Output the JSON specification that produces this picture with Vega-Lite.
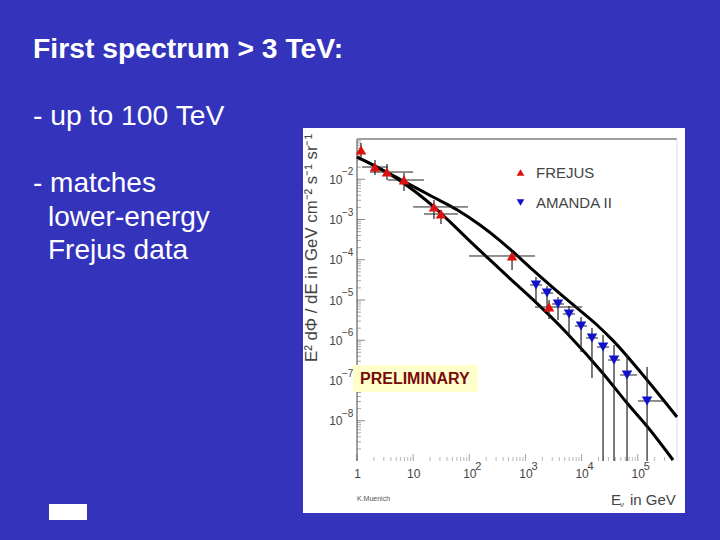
{
  "$schema": "https://vega.github.io/schema/vega-lite/v6.json",
  "width": 720,
  "height": 540,
  "autosize": {"type": "fit", "contains": "padding"},
  "padding": 0,
  "background": "#3333bb",
  "config": {"view": {"stroke": null}, "font": "Liberation Sans"},
  "data": {"values": [{}]},
  "datasets": {
    "curves": [
      {"band": "upper", "E": 1, "flux": 0.0357},
      {"band": "upper", "E": 2.27, "flux": 0.0201},
      {"band": "upper", "E": 5.83, "flux": 0.0100},
      {"band": "upper", "E": 22.6, "flux": 0.00362},
      {"band": "upper", "E": 60.4, "flux": 0.00175},
      {"band": "upper", "E": 155, "flux": 0.00073},
      {"band": "upper", "E": 352, "flux": 0.00030},
      {"band": "upper", "E": 577, "flux": 0.000165},
      {"band": "upper", "E": 1365, "flux": 0.0000556},
      {"band": "upper", "E": 6220, "flux": 0.0000088},
      {"band": "upper", "E": 18800, "flux": 0.00000239},
      {"band": "upper", "E": 36300, "flux": 9.8e-7},
      {"band": "upper", "E": 146600, "flux": 1.03e-7},
      {"band": "upper", "E": 500000, "flux": 1.24e-8},
      {"band": "lower", "E": 1, "flux": 0.0357},
      {"band": "lower", "E": 2.27, "flux": 0.0201},
      {"band": "lower", "E": 5.83, "flux": 0.0092},
      {"band": "lower", "E": 11.7, "flux": 0.00455},
      {"band": "lower", "E": 22.6, "flux": 0.00215},
      {"band": "lower", "E": 45.4, "flux": 0.00087},
      {"band": "lower", "E": 91, "flux": 0.00034},
      {"band": "lower", "E": 352, "flux": 0.000058},
      {"band": "lower", "E": 531, "flux": 0.000034},
      {"band": "lower", "E": 1365, "flux": 0.0000102},
      {"band": "lower", "E": 5500, "flux": 0.0000015},
      {"band": "lower", "E": 24100, "flux": 1.5e-7},
      {"band": "lower", "E": 64400, "flux": 2.76e-8},
      {"band": "lower", "E": 165600, "flux": 5.89e-9},
      {"band": "lower", "E": 425000, "flux": 1.06e-9}
    ],
    "points": [
      {"exp": "FREJUS", "E": 1.18, "Elo": 1.18, "Ehi": 1.18, "flux": 0.0533, "lo": 0.0357, "hi": 0.0796},
      {"exp": "FREJUS", "E": 2.09, "Elo": 1.23, "Ehi": 3.57, "flux": 0.0201, "lo": 0.0128, "hi": 0.0301},
      {"exp": "FREJUS", "E": 3.42, "Elo": 1.71, "Ehi": 10, "flux": 0.0151, "lo": 0.00957, "hi": 0.0239},
      {"exp": "FREJUS", "E": 6.87, "Elo": 3.57, "Ehi": 15.6, "flux": 0.00957, "lo": 0.0051, "hi": 0.0143},
      {"exp": "FREJUS", "E": 23.5, "Elo": 10, "Ehi": 94.9, "flux": 0.00205, "lo": 0.00103, "hi": 0.00305},
      {"exp": "FREJUS", "E": 31.3, "Elo": 15.6, "Ehi": 63, "flux": 0.00137, "lo": 0.000773, "hi": 0.00172},
      {"exp": "FREJUS", "E": 577, "Elo": 98.9, "Ehi": 1480, "flux": 0.000124, "lo": 0.0000556, "hi": 0.000156},
      {"exp": "FREJUS", "E": 2630, "Elo": 1480, "Ehi": 10200, "flux": 0.0000067, "lo": 0.00000337, "hi": 0.00001},
      {"exp": "AMANDA II", "E": 1540, "Elo": 1208, "Ehi": 1973, "flux": 0.0000236, "lo": 0.0000089, "hi": 0.0000372},
      {"exp": "AMANDA II", "E": 2423, "Elo": 1896, "Ehi": 3100, "flux": 0.0000149, "lo": 0.00000632, "hi": 0.0000223},
      {"exp": "AMANDA II", "E": 3800, "Elo": 2975, "Ehi": 4864, "flux": 0.00000796, "lo": 0.00000318, "hi": 0.0000119},
      {"exp": "AMANDA II", "E": 5970, "Elo": 4670, "Ehi": 7640, "flux": 0.00000449, "lo": 0.00000135, "hi": 0.0000071},
      {"exp": "AMANDA II", "E": 9770, "Elo": 7640, "Ehi": 12500, "flux": 0.00000226, "lo": 5.1e-7, "hi": 0.00000378},
      {"exp": "AMANDA II", "E": 15300, "Elo": 12000, "Ehi": 19600, "flux": 0.00000114, "lo": 1.15e-7, "hi": 0.00000201},
      {"exp": "AMANDA II", "E": 24100, "Elo": 18800, "Ehi": 30800, "flux": 6.79e-7, "lo": 1e-9, "hi": 0.00000135},
      {"exp": "AMANDA II", "E": 37800, "Elo": 29600, "Ehi": 48400, "flux": 3.23e-7, "lo": 1e-9, "hi": 7.62e-7},
      {"exp": "AMANDA II", "E": 64400, "Elo": 48400, "Ehi": 97200, "flux": 1.37e-7, "lo": 1e-9, "hi": 4.31e-7},
      {"exp": "AMANDA II", "E": 146600, "Elo": 101000, "Ehi": 282000, "flux": 3.1e-8, "lo": 1e-9, "hi": 2.16e-7}
    ],
    "xMajor": [{"E": 1}, {"E": 10}, {"E": 100}, {"E": 1000}, {"E": 10000}, {"E": 100000}],
    "xMinor": [
      {"E": 2}, {"E": 3}, {"E": 4}, {"E": 5}, {"E": 6}, {"E": 7}, {"E": 8}, {"E": 9},
      {"E": 20}, {"E": 30}, {"E": 40}, {"E": 50}, {"E": 60}, {"E": 70}, {"E": 80}, {"E": 90},
      {"E": 200}, {"E": 300}, {"E": 400}, {"E": 500}, {"E": 600}, {"E": 700}, {"E": 800}, {"E": 900},
      {"E": 2000}, {"E": 3000}, {"E": 4000}, {"E": 5000}, {"E": 6000}, {"E": 7000}, {"E": 8000}, {"E": 9000},
      {"E": 20000}, {"E": 30000}, {"E": 40000}, {"E": 50000}, {"E": 60000}, {"E": 70000}, {"E": 80000}, {"E": 90000},
      {"E": 200000}, {"E": 300000}, {"E": 400000}
    ],
    "yMajor": [{"flux": 0.01}, {"flux": 0.001}, {"flux": 0.0001}, {"flux": 0.00001}, {"flux": 0.000001}, {"flux": 1e-7}, {"flux": 1e-8}],
    "yMinor": [
      {"flux": 0.02}, {"flux": 0.03}, {"flux": 0.04}, {"flux": 0.05}, {"flux": 0.06}, {"flux": 0.07}, {"flux": 0.08}, {"flux": 0.09},
      {"flux": 0.002}, {"flux": 0.003}, {"flux": 0.004}, {"flux": 0.005}, {"flux": 0.006}, {"flux": 0.007}, {"flux": 0.008}, {"flux": 0.009},
      {"flux": 0.0002}, {"flux": 0.0003}, {"flux": 0.0004}, {"flux": 0.0005}, {"flux": 0.0006}, {"flux": 0.0007}, {"flux": 0.0008}, {"flux": 0.0009},
      {"flux": 0.00002}, {"flux": 0.00003}, {"flux": 0.00004}, {"flux": 0.00005}, {"flux": 0.00006}, {"flux": 0.00007}, {"flux": 0.00008}, {"flux": 0.00009},
      {"flux": 0.000002}, {"flux": 0.000003}, {"flux": 0.000004}, {"flux": 0.000005}, {"flux": 0.000006}, {"flux": 0.000007}, {"flux": 0.000008}, {"flux": 0.000009},
      {"flux": 2e-7}, {"flux": 3e-7}, {"flux": 4e-7}, {"flux": 5e-7}, {"flux": 6e-7}, {"flux": 7e-7}, {"flux": 8e-7}, {"flux": 9e-7},
      {"flux": 2e-8}, {"flux": 3e-8}, {"flux": 4e-8}, {"flux": 5e-8}, {"flux": 6e-8}, {"flux": 7e-8}, {"flux": 8e-8}, {"flux": 9e-8},
      {"flux": 2e-9}, {"flux": 3e-9}, {"flux": 4e-9}, {"flux": 5e-9}, {"flux": 6e-9}, {"flux": 7e-9}, {"flux": 8e-9}, {"flux": 9e-9}
    ],
    "ySup": [
      {"flux": 0.01, "sup": "−2"}, {"flux": 0.001, "sup": "−3"}, {"flux": 0.0001, "sup": "−4"},
      {"flux": 0.00001, "sup": "−5"}, {"flux": 0.000001, "sup": "−6"}, {"flux": 1e-7, "sup": "−7"}, {"flux": 1e-8, "sup": "−8"}
    ],
    "xSup": [{"E": 100, "sup": "2"}, {"E": 1000, "sup": "3"}, {"E": 10000, "sup": "4"}, {"E": 100000, "sup": "5"}]
  },
  "layer": [
    {
      "layer": [
        {
          "mark": {"type": "rect", "color": "white"},
          "encoding": {
            "x": {"datum": 303, "scale": {"domain": [0, 720], "nice": false, "zero": false}, "axis": null},
            "x2": {"datum": 685},
            "y": {"datum": 128, "scale": {"domain": [540, 0], "nice": false, "zero": false}, "axis": null},
            "y2": {"datum": 513}
          }
        },
        {
          "mark": {"type": "rect", "color": "white"},
          "encoding": {"x": {"datum": 49}, "x2": {"datum": 87}, "y": {"datum": 504}, "y2": {"datum": 520}}
        },
        {
          "mark": {"type": "text", "text": "First spectrum > 3 TeV:", "align": "left", "baseline": "middle", "font": "Liberation Sans", "fontWeight": "bold", "fontSize": 28.3, "color": "white"},
          "encoding": {"x": {"datum": 33}, "y": {"datum": 50}}
        },
        {
          "mark": {"type": "text", "text": "- up to 100 TeV", "align": "left", "baseline": "middle", "font": "Liberation Sans", "fontSize": 28.3, "color": "white"},
          "encoding": {"x": {"datum": 33}, "y": {"datum": 117}}
        },
        {
          "mark": {"type": "text", "text": "- matches", "align": "left", "baseline": "middle", "font": "Liberation Sans", "fontSize": 28, "color": "white"},
          "encoding": {"x": {"datum": 33}, "y": {"datum": 184}}
        },
        {
          "mark": {"type": "text", "text": "lower-energy", "align": "left", "baseline": "middle", "font": "Liberation Sans", "fontSize": 28, "color": "white"},
          "encoding": {"x": {"datum": 48}, "y": {"datum": 218}}
        },
        {
          "mark": {"type": "text", "text": "Frejus data", "align": "left", "baseline": "middle", "font": "Liberation Sans", "fontSize": 28, "color": "white"},
          "encoding": {"x": {"datum": 48}, "y": {"datum": 251}}
        }
      ]
    },
    {
      "layer": [
        {
          "data": {"name": "yMinor"},
          "mark": {"type": "tick", "orient": "horizontal", "size": 4, "thickness": 1, "xOffset": 2, "color": "#888888"},
          "encoding": {
            "x": {
              "datum": 1,
              "scale": {"type": "log", "domain": [1, 500000], "range": [357, 677], "nice": false},
              "axis": {"orient": "bottom", "offset": -79, "values": [1, 10, 100, 1000, 10000, 100000], "labelExpr": "datum.value == 1 ? '1' : '10'", "domain": false, "ticks": false, "grid": false, "title": null, "labelPadding": 7, "labelFontSize": 12, "labelColor": "#444444", "labelFont": "Liberation Sans", "labelOverlap": false, "labelFlush": false, "zindex": 1}
            },
            "y": {
              "field": "flux",
              "type": "quantitative",
              "scale": {"type": "log", "domain": [1e-9, 0.1], "range": [461, 139], "nice": false},
              "axis": {"orient": "left", "offset": -357, "values": [0.01, 0.001, 0.0001, 0.00001, 0.000001, 1e-7, 1e-8], "labelExpr": "'10'", "domain": false, "ticks": false, "grid": false, "title": null, "labelPadding": 15, "labelFontSize": 12, "labelColor": "#444444", "labelFont": "Liberation Sans", "labelOverlap": false, "labelFlush": false, "zindex": 1}
            }
          }
        },
        {
          "data": {"name": "yMajor"},
          "mark": {"type": "tick", "orient": "horizontal", "size": 8, "thickness": 1, "xOffset": 4, "color": "#555555"},
          "encoding": {"x": {"datum": 1}, "y": {"field": "flux", "type": "quantitative"}}
        },
        {
          "data": {"name": "xMinor"},
          "mark": {"type": "tick", "orient": "vertical", "size": 4, "thickness": 1, "yOffset": -2, "color": "#999999"},
          "encoding": {"x": {"field": "E", "type": "quantitative"}, "y": {"datum": 1e-9}}
        },
        {
          "data": {"name": "xMajor"},
          "mark": {"type": "tick", "orient": "vertical", "size": 7, "thickness": 1, "yOffset": -3.5, "color": "#777777"},
          "encoding": {"x": {"field": "E", "type": "quantitative"}, "y": {"datum": 1e-9}}
        },
        {
          "mark": {"type": "rule", "color": "#444444", "strokeWidth": 1},
          "encoding": {"x": {"datum": 1}, "y": {"datum": 1e-9}, "y2": {"datum": 0.1}}
        },
        {
          "mark": {"type": "rule", "color": "#a0a0a0", "strokeWidth": 2},
          "encoding": {"x": {"datum": 1}, "x2": {"datum": 500000}, "y": {"datum": 0.1}}
        },
        {
          "mark": {"type": "rule", "color": "#dddddd", "strokeWidth": 1},
          "encoding": {"x": {"datum": 500000}, "y": {"datum": 1e-9}, "y2": {"datum": 0.1}}
        },
        {
          "data": {"name": "ySup"},
          "mark": {"type": "text", "align": "left", "baseline": "middle", "dx": -15, "dy": -7, "fontSize": 10, "color": "#444444", "font": "Liberation Sans"},
          "encoding": {"x": {"datum": 1}, "y": {"field": "flux", "type": "quantitative"}, "text": {"field": "sup"}}
        },
        {
          "data": {"name": "xSup"},
          "mark": {"type": "text", "align": "left", "baseline": "middle", "dx": 6, "dy": 6, "fontSize": 11, "color": "#444444", "font": "Liberation Sans"},
          "encoding": {"x": {"field": "E", "type": "quantitative"}, "y": {"datum": 1e-9}, "text": {"field": "sup"}}
        },
        {
          "data": {"name": "curves"},
          "mark": {"type": "line", "color": "black", "strokeWidth": 3, "interpolate": "monotone", "clip": false},
          "encoding": {
            "x": {"field": "E", "type": "quantitative"},
            "y": {"field": "flux", "type": "quantitative"},
            "detail": {"field": "band"}
          }
        },
        {
          "data": {"name": "points"},
          "mark": {"type": "rule", "color": "#222222", "strokeWidth": 1},
          "encoding": {"x": {"field": "Elo", "type": "quantitative"}, "x2": {"field": "Ehi"}, "y": {"field": "flux", "type": "quantitative"}}
        },
        {
          "data": {"name": "points"},
          "mark": {"type": "rule", "color": "#222222", "strokeWidth": 1.2},
          "encoding": {"x": {"field": "E", "type": "quantitative"}, "y": {"field": "lo", "type": "quantitative"}, "y2": {"field": "hi"}}
        },
        {
          "data": {"name": "points"},
          "mark": {"type": "point", "filled": true, "opacity": 1, "size": 110},
          "encoding": {
            "x": {"field": "E", "type": "quantitative"},
            "y": {"field": "flux", "type": "quantitative"},
            "color": {
              "field": "exp",
              "type": "nominal",
              "sort": null,
              "scale": {"domain": ["FREJUS", "AMANDA II"], "range": ["#dd1111", "#1111cc"]},
              "legend": {"title": null, "orient": "none", "legendX": 513, "legendY": 165, "labelFont": "Liberation Sans", "labelFontSize": 15, "labelColor": "#444444", "labelOffset": 8, "rowPadding": 14, "symbolSize": 60}
            },
            "shape": {
              "field": "exp",
              "type": "nominal",
              "scale": {"domain": ["FREJUS", "AMANDA II"], "range": ["triangle-up", "triangle-down"]}
            }
          }
        }
      ]
    },
    {
      "layer": [
        {
          "mark": {"type": "rect", "color": "#ffffcc"},
          "encoding": {
            "x": {"datum": 353, "scale": {"domain": [0, 720], "nice": false, "zero": false}, "axis": null},
            "x2": {"datum": 478},
            "y": {"datum": 365, "scale": {"domain": [540, 0], "nice": false, "zero": false}, "axis": null},
            "y2": {"datum": 392}
          }
        },
        {
          "mark": {"type": "text", "text": "PRELIMINARY", "align": "left", "baseline": "middle", "font": "Liberation Sans", "fontWeight": "bold", "fontSize": 16, "color": "#7a0a0a"},
          "encoding": {"x": {"datum": 360}, "y": {"datum": 379}}
        },
        {
          "mark": {"type": "text", "text": "E² dΦ / dE in GeV cm⁻² s⁻¹ sr⁻¹", "angle": 270, "align": "center", "baseline": "middle", "font": "Liberation Sans", "fontSize": 16.8, "color": "#444444"},
          "encoding": {"x": {"datum": 312}, "y": {"datum": 248}}
        },
        {
          "mark": {"type": "text", "text": "E", "align": "left", "baseline": "middle", "font": "Liberation Sans", "fontSize": 15, "color": "#444444"},
          "encoding": {"x": {"datum": 611}, "y": {"datum": 500}}
        },
        {
          "mark": {"type": "text", "text": "ν", "align": "left", "baseline": "middle", "font": "Liberation Sans", "fontSize": 8, "color": "#444444"},
          "encoding": {"x": {"datum": 620}, "y": {"datum": 505}}
        },
        {
          "mark": {"type": "text", "text": "in GeV", "align": "left", "baseline": "middle", "font": "Liberation Sans", "fontSize": 15, "color": "#444444"},
          "encoding": {"x": {"datum": 630}, "y": {"datum": 500}}
        },
        {
          "mark": {"type": "text", "text": "K.Muenich", "align": "left", "baseline": "middle", "font": "Liberation Sans", "fontSize": 7, "color": "#555555"},
          "encoding": {"x": {"datum": 357}, "y": {"datum": 499}}
        }
      ]
    }
  ],
  "resolve": {"scale": {"x": "independent", "y": "independent"}, "axis": {"x": "independent", "y": "independent"}}
}
